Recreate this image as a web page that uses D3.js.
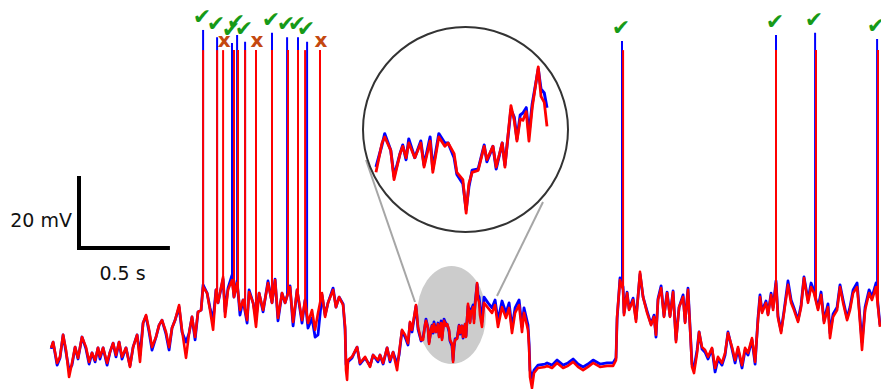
<!DOCTYPE html>
<html>
<head>
<meta charset="utf-8">
<script src="https://cdn.jsdelivr.net/npm/d3@7"></script>
<style>
  body { margin: 0; background: #fff; }
  svg { display: block; }
</style>
</head>
<body>
<svg id="chart" width="881" height="389"></svg>
<script>
// membrane potential, recorded (red) and model (blue); time in ms, voltage in mV
const timeMs = [
  6, 17, 39, 55, 72, 88, 105, 121, 138, 154, 176, 198, 215, 231, 248, 264, 275, 292, 314, 330,
  347, 363, 380, 396, 418, 440, 457, 479, 495, 512, 528, 545, 561, 583, 600, 616, 638, 655, 671, 688,
  710, 726, 748, 765, 781, 798, 814, 831, 842, 864, 880, 897, 913, 924, 952, 963, 979, 1001, 1012, 1029,
  1045, 1062, 1084, 1095, 1117, 1133, 1150, 1172, 1199, 1221, 1238, 1254, 1276, 1293, 1320, 1337, 1359, 1386, 1403, 1419,
  1441, 1458, 1474, 1496, 1513, 1529, 1557, 1573, 1590, 1612, 1623, 1628, 1634, 1639, 1661, 1689, 1705, 1733, 1760, 1777,
  1804, 1815, 1832, 1854, 1870, 1887, 1909, 1920, 1936, 1953, 1969, 1980, 1991, 2013, 2024, 2041, 2052, 2063, 2068, 2079,
  2085, 2096, 2101, 2107, 2112, 2123, 2134, 2140, 2151, 2156, 2167, 2178, 2184, 2195, 2200, 2211, 2217, 2222, 2228, 2239,
  2250, 2255, 2266, 2272, 2283, 2288, 2299, 2305, 2310, 2316, 2321, 2327, 2332, 2338, 2349, 2354, 2360, 2365, 2376, 2387,
  2409, 2431, 2448, 2464, 2486, 2508, 2525, 2541, 2558, 2580, 2596, 2607, 2629, 2635, 2640, 2651, 2662, 2684, 2723, 2734,
  2761, 2789, 2822, 2849, 2877, 2904, 2932, 2959, 2987, 3025, 3064, 3097, 3113, 3119, 3135, 3152, 3157, 3174, 3185, 3207,
  3223, 3245, 3262, 3284, 3306, 3322, 3333, 3344, 3361, 3377, 3394, 3410, 3427, 3443, 3460, 3482, 3493, 3509, 3520, 3531,
  3542, 3559, 3570, 3586, 3603, 3619, 3641, 3658, 3674, 3696, 3713, 3729, 3751, 3768, 3784, 3806, 3823, 3839, 3861, 3878,
  3894, 3905, 3916, 3938, 3949, 3966, 3977, 3993, 4004, 4021, 4037, 4059, 4076, 4092, 4114, 4131, 4147, 4169, 4186, 4202,
  4224, 4241, 4257, 4279, 4290, 4307, 4329, 4345, 4362, 4384, 4400, 4417, 4439, 4450, 4466, 4483, 4505, 4521, 4543, 4554,
  4565
];

const redMv = [
  -64.4, -62.8, -68.6, -66.9, -60.8, -65.0, -72.5, -68.6, -64.2, -67.2, -61.4, -64.2, -68.3, -65.8, -67.8, -64.4, -66.9, -64.4, -68.6, -65.6,
  -63.1, -66.4, -62.8, -66.9, -64.4, -69.7, -64.2, -60.8, -68.3, -57.5, -55.3, -59.4, -64.2, -61.4, -58.1, -56.7, -60.0, -64.2, -58.9, -56.7,
  -52.5, -59.4, -67.2, -60.3, -55.8, -61.4, -54.4, -53.9, -47.5, -49.2, -53.9, -59.4, -48.3, -51.9, -44.7, -55.8, -48.3, -45.6, -50.3, -46.4,
  -53.9, -51.1, -56.7, -48.9, -51.9, -58.6, -49.2, -53.9, -46.4, -51.9, -45.6, -56.1, -49.2, -51.9, -47.5, -57.2, -48.3, -56.7, -51.1, -57.5,
  -53.9, -59.4, -54.7, -49.2, -55.8, -51.9, -48.3, -53.1, -50.3, -52.5, -58.6, -70.6, -73.3, -67.8, -66.9, -64.2, -68.6, -66.9, -69.7, -66.4,
  -67.8, -66.4, -68.6, -64.4, -67.8, -65.6, -70.6, -65.8, -59.4, -60.8, -63.1, -57.2, -59.4, -52.5, -58.6, -62.2, -62.2, -57.8, -56.9, -58.9,
  -63.3, -59.4, -58.3, -60.0, -57.8, -60.0, -57.8, -61.4, -57.5, -62.2, -56.9, -58.3, -57.8, -59.4, -62.2, -63.3, -68.3, -63.9, -62.2, -61.9,
  -58.3, -60.3, -58.3, -61.4, -57.8, -61.4, -52.2, -54.4, -57.5, -54.2, -54.4, -53.1, -57.5, -52.5, -46.4, -50.8, -51.7, -55.3, -58.6, -51.9,
  -53.3, -54.7, -52.5, -58.6, -53.1, -56.1, -53.3, -60.3, -54.7, -52.5, -60.0, -54.7, -59.4, -64.2, -72.5, -75.6, -71.4, -70.0, -69.7, -69.4,
  -70.0, -68.6, -70.0, -69.4, -68.3, -69.7, -70.6, -69.7, -68.6, -69.7, -69.4, -69.4, -67.8, -55.8, -45.6, -48.3, -55.3, -49.2, -53.9, -51.1,
  -57.2, -43.3, -50.3, -54.7, -58.1, -55.8, -60.8, -51.1, -47.8, -55.8, -49.2, -55.8, -48.9, -62.8, -53.1, -50.3, -57.5, -48.3, -58.6, -69.7,
  -71.4, -65.8, -60.0, -64.2, -65.0, -66.9, -64.4, -70.0, -66.9, -68.6, -65.8, -60.3, -64.2, -67.8, -64.2, -69.2, -64.4, -65.8, -61.7, -68.3,
  -56.7, -50.3, -54.7, -51.9, -55.3, -49.7, -53.9, -46.4, -56.1, -60.3, -54.7, -46.9, -51.9, -53.9, -57.2, -53.1, -45.0, -51.9, -47.5, -49.2,
  -53.9, -49.7, -57.5, -53.1, -61.7, -55.8, -53.9, -47.5, -51.9, -56.7, -53.9, -49.2, -47.5, -53.9, -65.0, -53.9, -49.2, -51.1, -47.5, -53.1,
  -58.6
];

const blueMv = [
  -64.7, -62.8, -69.2, -67.2, -60.8, -65.6, -70.6, -69.2, -64.2, -67.5, -61.4, -64.7, -68.9, -65.8, -68.3, -64.4, -67.5, -64.4, -69.2, -65.6,
  -63.1, -66.9, -62.8, -67.5, -64.4, -69.4, -64.2, -60.8, -66.4, -57.5, -55.6, -60.0, -65.0, -61.4, -58.1, -56.7, -60.6, -65.0, -58.9, -56.7,
  -53.1, -60.0, -62.8, -60.3, -55.8, -62.2, -54.4, -53.9, -46.9, -49.2, -53.3, -56.7, -48.3, -51.9, -45.3, -54.4, -47.8, -44.2, -50.3, -45.8,
  -55.3, -51.1, -57.5, -48.3, -51.9, -56.1, -49.2, -54.4, -45.8, -51.9, -45.3, -56.9, -49.2, -51.9, -47.2, -58.3, -48.3, -57.5, -51.1, -58.9,
  -56.1, -61.4, -60.8, -49.7, -55.3, -51.9, -47.8, -53.1, -50.3, -52.2, -59.4, -68.9, -70.0, -68.3, -67.2, -64.2, -68.9, -67.2, -69.4, -66.4,
  -68.3, -66.4, -68.9, -64.4, -68.3, -65.6, -68.9, -66.4, -59.7, -61.4, -63.6, -57.5, -60.0, -52.8, -59.2, -62.5, -61.4, -58.1, -56.4, -58.9,
  -62.8, -59.4, -58.1, -60.3, -57.2, -60.0, -57.5, -61.1, -56.9, -61.7, -56.4, -57.8, -57.8, -60.0, -62.5, -63.9, -67.8, -64.4, -61.9, -61.7,
  -58.1, -60.6, -58.3, -61.7, -57.8, -61.1, -52.8, -53.9, -57.2, -53.6, -53.3, -52.5, -56.4, -51.9, -46.7, -49.7, -50.3, -52.5, -57.2, -50.3,
  -51.9, -53.3, -51.1, -56.9, -51.4, -54.7, -51.9, -58.9, -53.3, -51.1, -58.6, -53.3, -58.1, -63.3, -70.6, -72.8, -70.6, -69.2, -68.9, -68.6,
  -69.2, -67.8, -69.2, -68.6, -67.5, -68.9, -69.7, -68.9, -67.8, -68.9, -68.6, -68.6, -67.2, -56.4, -45.0, -47.5, -54.7, -48.9, -53.6, -50.6,
  -56.4, -43.9, -50.3, -54.2, -57.8, -55.3, -61.4, -50.8, -47.2, -55.6, -48.9, -55.6, -48.6, -62.2, -53.1, -49.7, -57.2, -47.8, -58.3, -68.9,
  -70.0, -65.0, -60.0, -64.7, -65.6, -67.5, -64.7, -71.1, -67.5, -69.2, -66.4, -60.0, -64.7, -68.6, -64.7, -70.0, -65.0, -66.4, -62.2, -68.9,
  -56.1, -49.7, -54.2, -51.4, -55.0, -49.2, -53.3, -45.8, -55.6, -59.7, -54.2, -45.8, -51.1, -53.3, -56.7, -52.5, -44.7, -51.1, -46.4, -48.6,
  -53.3, -48.9, -56.9, -52.2, -60.3, -55.0, -53.1, -46.9, -51.1, -56.1, -53.1, -48.3, -46.4, -53.1, -62.8, -53.1, -48.3, -50.3, -46.4, -52.5,
  -58.1
];

// action potentials (time of spike, peak voltage)
const blueSpikeMs = [842, 919, 1001, 1029, 1073, 1221, 1304, 1364, 1414, 3146, 3993, 4208, 4549];
const blueSpikePeakMv = [23.9, 21.9, 20.3, 22.5, 20.6, 23.1, 21.9, 21.9, 20.6, 20.8, 22.5, 23.1, 21.4];
const redSpikeMs = [842, 919, 952, 1012, 1034, 1073, 1133, 1221, 1309, 1364, 1403, 1485, 3152, 3993, 4213, 4554];
const redSpikePeakMv = [18.3, 18.3, 18.3, 18.3, 18.3, 18.3, 18.3, 18.3, 18.3, 18.3, 18.3, 18.3, 18.3, 18.3, 18.3, 18.3];

// magnified window and scale bar
const zoomWindowMs = [2052, 2365];
const zoomWindowMv = [-68.3, -46.4];
const scaleBarMs = 500;
const scaleBarMv = 20;

const svg = d3.select('#chart');

const x = d3.scaleLinear().domain([0, 5500]).range([50, 1050]);
const y = d3.scaleLinear().domain([-75, 25]).range([386, 26]);

const blueColor = '#0000ff';
const redColor = '#ff0000';

function valueAt(times, values, t) {
    const i = d3.bisectLeft(times, t);
    if (i <= 0) return values[0];
    if (i >= times.length) return values[times.length - 1];
    const f = (t - times[i - 1]) / (times[i] - times[i - 1]);
    return values[i - 1] + f * (values[i] - values[i - 1]);
}

const blueData = timeMs.map((t, i) => ({ t: t, v: blueMv[i] }));
const redData = timeMs.map((t, i) => ({ t: t, v: redMv[i] }));

// magnifier: grey spot on the trace, lines to the circle
svg.append('ellipse')
    .attr('cx', 451.5).attr('cy', 315)
    .attr('rx', 34.5).attr('ry', 49)
    .attr('fill', '#cccccc');

svg.append('line')
    .attr('x1', 366).attr('y1', 160).attr('x2', 415).attr('y2', 302)
    .attr('stroke', '#a6a6a6').attr('stroke-width', 2);
svg.append('line')
    .attr('x1', 543).attr('y1', 202).attr('x2', 497).attr('y2', 296)
    .attr('stroke', '#a6a6a6').attr('stroke-width', 2);

const line = d3.line()
    .x(d => x(d.t))
    .y(d => y(d.v));

function drawSpikes(g, times, peaks, values, color) {
    g.selectAll('line')
        .data(times)
        .enter().append('line')
        .attr('x1', d => x(d)).attr('x2', d => x(d))
        .attr('y1', (d, i) => y(peaks[i]))
        .attr('y2', d => y(valueAt(timeMs, values, d)))
        .attr('stroke', color)
        .attr('stroke-width', 2);
}

svg.append('path')
    .datum(blueData)
    .attr('d', line)
    .attr('fill', 'none')
    .attr('stroke', blueColor)
    .attr('stroke-width', 2.8)
    .attr('stroke-linejoin', 'round');
drawSpikes(svg.append('g'), blueSpikeMs, blueSpikePeakMv, blueMv, blueColor);

svg.append('path')
    .datum(redData)
    .attr('d', line)
    .attr('fill', 'none')
    .attr('stroke', redColor)
    .attr('stroke-width', 2.6)
    .attr('stroke-linejoin', 'round');
drawSpikes(svg.append('g'), redSpikeMs, redSpikePeakMv, redMv, redColor);

// inset
svg.append('circle')
    .attr('cx', 465.5).attr('cy', 129.5).attr('r', 102.5)
    .attr('fill', '#fff')
    .attr('stroke', '#333')
    .attr('stroke-width', 2);

const xInset = d3.scaleLinear().domain(zoomWindowMs).range([376, 547]);
const yInset = d3.scaleLinear().domain(zoomWindowMv).range([213, 67]);
const insetLine = d3.line()
    .x(d => xInset(d.t))
    .y(d => yInset(d.v));
const inWindow = d => d.t >= zoomWindowMs[0] && d.t <= zoomWindowMs[1];

svg.append('path')
    .datum(blueData.filter(inWindow))
    .attr('d', insetLine)
    .attr('fill', 'none')
    .attr('stroke', blueColor)
    .attr('stroke-width', 3)
    .attr('stroke-linejoin', 'round');
svg.append('path')
    .datum(redData.filter(inWindow))
    .attr('d', insetLine)
    .attr('fill', 'none')
    .attr('stroke', redColor)
    .attr('stroke-width', 2.8)
    .attr('stroke-linejoin', 'round');

// hits (check) and false alarms (x)
const tolerance = 15;
const hits = blueSpikeMs.map((t, i) => ({ t: t, v: blueSpikePeakMv[i] }))
    .filter(d => redSpikeMs.some(r => Math.abs(r - d.t) <= tolerance));
const misses = redSpikeMs.map((t, i) => ({ t: t, v: redSpikePeakMv[i] }))
    .filter(d => !blueSpikeMs.some(b => Math.abs(b - d.t) <= tolerance));

svg.selectAll('.hit')
    .data(hits)
    .enter().append('text')
    .attr('class', 'hit')
    .attr('x', d => x(d.t) - 1)
    .attr('y', d => y(d.v) - 6)
    .attr('text-anchor', 'middle')
    .attr('font-family', 'DejaVu Sans')
    .attr('font-size', 22)
    .attr('fill', '#179a17')
    .text('\u2714');

svg.selectAll('.miss')
    .data(misses)
    .enter().append('text')
    .attr('class', 'miss')
    .attr('x', d => x(d.t) + 1)
    .attr('y', d => y(d.v) - 3)
    .attr('text-anchor', 'middle')
    .attr('font-family', 'DejaVu Sans')
    .attr('font-weight', 'bold')
    .attr('font-size', 20)
    .attr('fill', '#c4480f')
    .text('x');

// scale bar
const barX = 79, barY = 248;
const barW = x(scaleBarMs) - x(0);
const barH = y(0) - y(scaleBarMv);

svg.append('path')
    .attr('d', 'M' + barX + ',' + (barY - barH) + 'V' + barY + 'H' + (barX + barW))
    .attr('fill', 'none')
    .attr('stroke', '#000')
    .attr('stroke-width', 4);

svg.append('text')
    .attr('x', barX - 7).attr('y', 227)
    .attr('text-anchor', 'end')
    .attr('font-family', 'DejaVu Sans')
    .attr('font-size', 19)
    .attr('fill', '#111')
    .text(scaleBarMv + ' mV');

svg.append('text')
    .attr('x', barX + barW / 2 - 2).attr('y', 280)
    .attr('text-anchor', 'middle')
    .attr('font-family', 'DejaVu Sans')
    .attr('font-size', 19)
    .attr('fill', '#111')
    .text(scaleBarMs / 1000 + ' s');
</script>
</body>
</html>
